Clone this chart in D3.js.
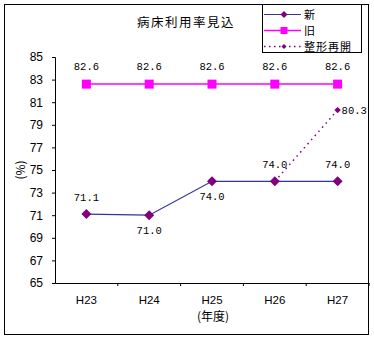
<!DOCTYPE html>
<html>
<head>
<meta charset="utf-8">
<script src="https://cdn.jsdelivr.net/npm/d3@7"></script>
<style>
  html, body { margin: 0; padding: 0; background: #fff; }
  svg { display: block; }
  text { font-family: "Liberation Sans", "Noto Sans CJK JP", sans-serif; fill: #000; }
  .jp { font-family: "Noto Sans CJK JP", sans-serif; }
  .val { font-family: "Liberation Mono", monospace; font-size: 10.5px; }
</style>
</head>
<body>
<svg id="chart" width="374" height="340"></svg>
<script>
// Bed occupancy outlook by fiscal year
const categories = ["H23", "H24", "H25", "H26", "H27"];
const newValues = [71.1, 71.0, 74.0, 74.0, 74.0];
const oldValues = [82.6, 82.6, 82.6, 82.6, 82.6];
const reopenCats = ["H26", "H27"];
const reopenValues = [74.0, 80.3];
const newLabelSide = ["above", "below", "below", "above", "above"];
const yTicks = [65, 67, 69, 71, 73, 75, 77, 79, 81, 83, 85];
const title = "病床利用率見込";
const seriesNames = ["新", "旧", "整形再開"];

const svg = d3.select("#chart");
const plot = { left: 55, right: 369, top: 57, bottom: 283 };

const colNewLine = "#333399", colNewMark = "#800080";
const colOld = "#ff00ff";
const colReopen = "#800080";

// outer frame
svg.append("rect").attr("x", 4.5).attr("y", 4.5).attr("width", 364).attr("height", 330)
  .attr("fill", "#fff").attr("stroke", "#000").attr("stroke-width", 1);

const x = d3.scaleBand().domain(categories).range([plot.left, plot.right]);
const y = d3.scaleLinear().domain([65, 85]).range([plot.bottom, plot.top]);
const cx = c => x(c) + x.bandwidth() / 2;

// axes
const yAxis = svg.append("g").attr("transform", `translate(${plot.left},0)`)
  .call(d3.axisLeft(y).tickValues(yTicks).tickSize(3).tickPadding(9).tickFormat(d3.format("d")));
yAxis.select(".domain").attr("stroke", "#000");
yAxis.selectAll(".tick line").attr("stroke", "#000");
yAxis.selectAll(".tick text").style("font-size", "12px").style("font-family", "Liberation Sans, sans-serif");

const xAxis = svg.append("g").attr("transform", `translate(0,${plot.bottom})`)
  .call(d3.axisBottom(x).tickSize(0).tickPadding(13));
xAxis.select(".domain").attr("stroke", "#000");
xAxis.selectAll(".tick text").style("font-size", "11.5px").style("font-family", "Liberation Sans, sans-serif");
// tick marks at category boundaries
xAxis.selectAll("line.boundary").data(categories).enter().append("line")
  .attr("class", "boundary")
  .attr("x1", c => x(c) + x.bandwidth()).attr("x2", c => x(c) + x.bandwidth())
  .attr("y1", 0).attr("y2", 3).attr("stroke", "#000");

// titles
svg.append("text").attr("class", "jp").attr("x", 186).attr("y", 27)
  .attr("text-anchor", "middle").style("font-size", "12.5px").style("letter-spacing", "1.5px").text(title);
svg.append("text").attr("class", "jp").attr("x", 213).attr("y", 321)
  .attr("text-anchor", "middle").style("font-size", "12px").text("(年度)");
svg.append("text").attr("class", "jp")
  .attr("transform", `translate(25,${(plot.top + plot.bottom) / 2}) rotate(-90)`)
  .attr("text-anchor", "middle").style("font-size", "12px").text("(%)");

function diamondPath(r) {
  return `M0,${-r}L${r},0L0,${r}L${-r},0Z`;
}

// 旧 series
const line = d3.line().x((d, i) => cx(categories[i])).y(d => y(d));
svg.append("path").datum(oldValues).attr("d", line)
  .attr("fill", "none").attr("stroke", colOld).attr("stroke-width", 1.5);
svg.selectAll("rect.old").data(oldValues).enter().append("rect").attr("class", "old")
  .attr("x", (d, i) => cx(categories[i]) - 4.5).attr("y", d => y(d) - 4.5)
  .attr("width", 9).attr("height", 9).attr("fill", colOld);

// 整形再開 series (dotted)
const lineR = d3.line().x((d, i) => cx(reopenCats[i])).y(d => y(d));
svg.append("path").datum(reopenValues).attr("d", lineR)
  .attr("fill", "none").attr("stroke", colReopen).attr("stroke-width", 1.5)
  .attr("stroke-dasharray", "1.5,4");
svg.append("path").attr("d", diamondPath(3.2))
  .attr("transform", `translate(${cx(reopenCats[1])},${y(reopenValues[1])})`)
  .attr("fill", colReopen);

// 新 series
svg.append("path").datum(newValues).attr("d", line)
  .attr("fill", "none").attr("stroke", colNewLine).attr("stroke-width", 1.2);
svg.selectAll("path.newm").data(newValues).enter().append("path").attr("class", "newm")
  .attr("d", diamondPath(5))
  .attr("transform", (d, i) => `translate(${cx(categories[i])},${y(d)})`)
  .attr("fill", colNewMark);

// value labels
svg.selectAll("text.oldv").data(oldValues).enter().append("text").attr("class", "val")
  .attr("x", (d, i) => cx(categories[i])).attr("y", d => y(d) - 14)
  .attr("text-anchor", "middle").text(d => d.toFixed(1));
svg.selectAll("text.newv").data(newValues).enter().append("text").attr("class", "val")
  .attr("x", (d, i) => cx(categories[i]))
  .attr("y", (d, i) => y(d) + (newLabelSide[i] === "above" ? -13 : 19))
  .attr("text-anchor", "middle").text(d => d.toFixed(1));
svg.append("text").attr("class", "val")
  .attr("x", cx(reopenCats[1]) + 4).attr("y", y(reopenValues[1]) + 4)
  .attr("text-anchor", "start").text(reopenValues[1].toFixed(1));

// legend
const lg = svg.append("g");
lg.append("rect").attr("x", 262.5).attr("y", 4.5).attr("width", 99).attr("height", 48)
  .attr("fill", "#fff").attr("stroke", "#000");
const rows = [14.5, 30.5, 46.5];
const x0 = 264, x1 = 301, xm = 284;
// 新
lg.append("line").attr("x1", x0).attr("x2", x1).attr("y1", rows[0]).attr("y2", rows[0])
  .attr("stroke", colNewLine).attr("stroke-width", 1.2);
lg.append("path").attr("d", diamondPath(3.5)).attr("transform", `translate(${xm},${rows[0]})`).attr("fill", colNewMark);
// 旧
lg.append("line").attr("x1", x0).attr("x2", x1).attr("y1", rows[1]).attr("y2", rows[1])
  .attr("stroke", colOld).attr("stroke-width", 1.5);
lg.append("rect").attr("x", xm - 3.5).attr("y", rows[1] - 3.5).attr("width", 7).attr("height", 7).attr("fill", colOld);
// 整形再開
lg.append("line").attr("x1", x0).attr("x2", x1).attr("y1", rows[2]).attr("y2", rows[2])
  .attr("stroke", colReopen).attr("stroke-width", 1.5).attr("stroke-dasharray", "1.5,3.5");
lg.append("path").attr("d", diamondPath(2.5)).attr("transform", `translate(${xm},${rows[2]})`).attr("fill", colReopen);
lg.selectAll("text.lt").data(seriesNames).enter().append("text").attr("class", "jp")
  .attr("x", 304).attr("y", (d, i) => rows[i] + 4).style("font-size", "11px")
  .style("letter-spacing", "1px").text(d => d);
</script>
</body>
</html>
